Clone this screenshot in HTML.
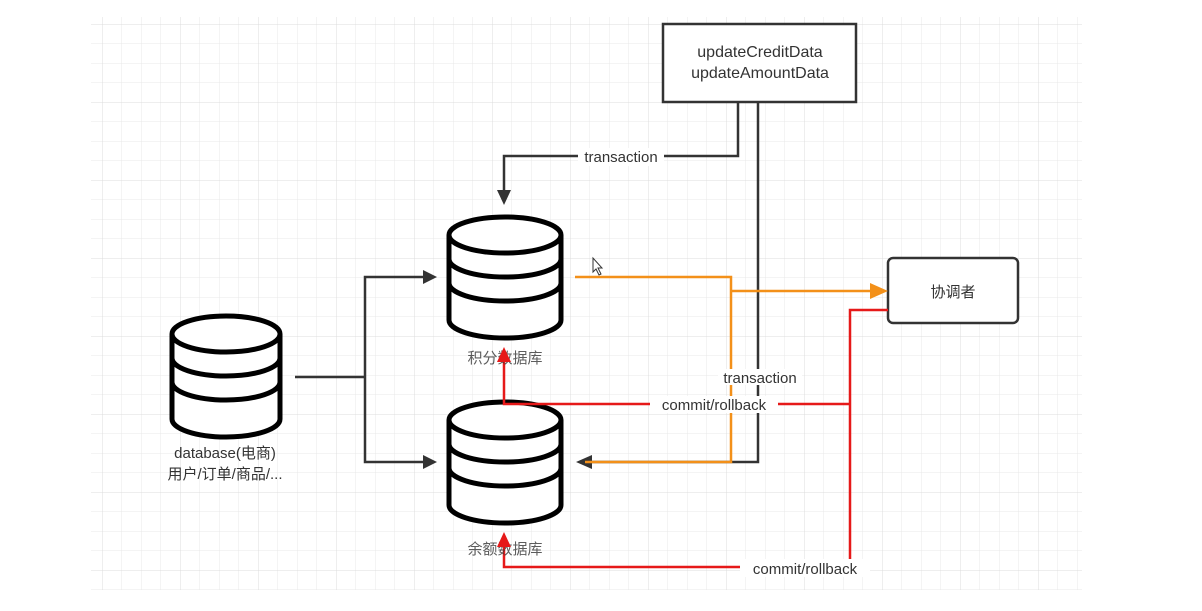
<!DOCTYPE html>
<html><head><meta charset="utf-8"><style>
html,body{margin:0;padding:0;background:#fff;width:1202px;height:611px;overflow:hidden}
text{font-family:"Liberation Sans","Noto Sans CJK SC",sans-serif;fill:#333}
</style></head><body>
<svg width="1202" height="611" xmlns="http://www.w3.org/2000/svg">
<defs>
<pattern id="g" x="102" y="24" width="19.5" height="19.5" patternUnits="userSpaceOnUse">
<path d="M0 0H19.5M0 0V19.5" stroke="#e8e8e8" stroke-width="1" fill="none"/>
</pattern>
<pattern id="G" x="102" y="24" width="78" height="78" patternUnits="userSpaceOnUse">
<path d="M0 0H78M0 0V78" stroke="#dcdcdc" stroke-width="1" fill="none"/>
</pattern>
</defs>
<rect x="91" y="17" width="991" height="573" fill="url(#g)"/>
<rect x="91" y="17" width="991" height="573" fill="url(#G)"/>

<!-- cylinders -->
<g fill="#fff" stroke="#000" stroke-width="5">
  <path d="M172 334 V419 A54 18 0 0 0 280 419 V334"/>
  <ellipse cx="226" cy="334" rx="54" ry="18"/>
  <path d="M172 358 A54 18 0 0 0 280 358 M172 382 A54 18 0 0 0 280 382" fill="none"/>
 <path d="M449 235 V320 A56 18 0 0 0 561 320 V235"/>
 <ellipse cx="505" cy="235" rx="56" ry="18"/>
 <path d="M449 259 A56 18 0 0 0 561 259 M449 283 A56 18 0 0 0 561 283" fill="none"/>
 <path d="M449 420 V505 A56 18 0 0 0 561 505 V420"/>
 <ellipse cx="505" cy="420" rx="56" ry="18"/>
 <path d="M449 444 A56 18 0 0 0 561 444 M449 468 A56 18 0 0 0 561 468" fill="none"/>
</g>

<!-- boxes -->
<rect x="663" y="24" width="193" height="78" fill="#fff" stroke="#333" stroke-width="2.5"/>
<text x="760" y="57" font-size="16" text-anchor="middle">updateCreditData</text>
<text x="760" y="78" font-size="16" text-anchor="middle">updateAmountData</text>
<rect x="888" y="258" width="130" height="65" rx="5" fill="#fff" stroke="#333" stroke-width="2.5"/>
<text x="953" y="297" font-size="15" text-anchor="middle">协调者</text>

<!-- dark connectors -->
<g stroke="#333" stroke-width="2.5" fill="none">
 <path d="M295 377 H365 V462 H428 M365 377 V277 H428"/>
 <path d="M738 102 V156 H504 V195"/>
 <path d="M758 102 V462 H590"/>
</g>
<g fill="#333">
 <path d="M437 277 L423 270 L423 284Z"/>
 <path d="M437 462 L423 455 L423 469Z"/>
 <path d="M504 205 L497 190 L511 190Z"/>
 <path d="M576 462 L592 455 L592 469Z"/>
</g>

<!-- orange -->
<g stroke="#f39019" stroke-width="2.5" fill="none">
 <path d="M575 277 H731 V462 H585"/>
 <path d="M731 291 H872"/>
</g>
<path d="M888 291 L870 283 L870 299Z" fill="#f39019"/>

<!-- red -->
<g stroke="#e61919" stroke-width="2.5" fill="none">
 <path d="M888 310 H850 V560"/>
 <path d="M850 404 H504 V360"/>
 <path d="M850 567 H504 V545"/>
</g>

<!-- labels -->
<text x="225" y="458" font-size="15" text-anchor="middle">database(电商)</text>
<text x="225" y="479" font-size="15" text-anchor="middle">用户/订单/商品/...</text>
<text x="505" y="363" font-size="15" text-anchor="middle" fill-opacity="0.8">积分数据库</text>
<text x="505" y="554" font-size="15" text-anchor="middle" fill-opacity="0.8">余额数据库</text>
<path d="M504 347 L497 362 L511 362Z M504 532 L497 547 L511 547Z" fill="#e61919"/>

<rect x="578" y="148" width="86" height="18" fill="#fff"/>
<text x="621" y="162" font-size="15" text-anchor="middle">transaction</text>
<rect x="718" y="369" width="84" height="16" fill="#fff"/>
<text x="760" y="383" font-size="15" text-anchor="middle">transaction</text>
<rect x="650" y="396" width="128" height="17" fill="#fff"/>
<text x="714" y="410" font-size="15" text-anchor="middle">commit/rollback</text>
<rect x="740" y="559" width="130" height="18" fill="#fff"/>
<text x="805" y="574" font-size="15" text-anchor="middle">commit/rollback</text>

<!-- cursor -->
<path d="M593 258 V272 L596 269 L599 275 L601 274 L598 268 L602 268Z" fill="#fff" stroke="#333" stroke-width="1"/>
</svg>
</body></html>
